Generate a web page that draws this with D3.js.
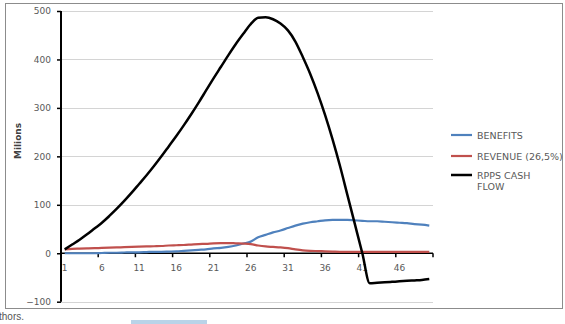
<!DOCTYPE html>
<html>
<head>
<meta charset="utf-8">
<script src="https://cdn.jsdelivr.net/npm/d3@7"></script>
<style>
  body { margin: 0; background: #fff; }
  svg { display: block; }
</style>
</head>
<body>
<div id="chart"></div>
<script>
// periods 1..50
var categories = [1,2,3,4,5,6,7,8,9,10,11,12,13,14,15,16,17,18,19,20,
                  21,22,23,24,25,26,27,28,29,30,31,32,33,34,35,36,37,38,39,40,
                  41,42,43,44,45,46,47,48,49,50];

var benefits = [0,0,0,0,0,0.5,1,1,1.5,2,
                2,2.5,3,3,3.5,4,5,6,7,8,
                10,11,13,16,20,24,33,38,43,47,
                52,57,61,64,66,68,69,69,69,68,
                67,66,66,65,64,63,62,60,59,57];

var revenue = [8,9,9.5,10,10.5,11,11.5,12,12.5,13,
               13.5,14,14.5,15,16,16.5,17,18,19,19.5,
               20.5,21,21,20.5,20,19,16,14,13,12,
               10.5,8,6,5,4.5,4,3.5,3,3,3,
               3,3,3,3,3,3,3,3,3,3];

var cashFlow = [8,18,28,39,51,63,77,92,108,125,
                143,161,180,200,221,242,264,287,311,336,
                361,385,409,432,453,473,486,487,483,474,
                460,437,405,370,330,285,235,180,120,60,
                0,-62,-61,-60,-59,-58,-57,-56,-55,-53];

var xTickLabels = [1,6,11,16,21,26,31,36,41,46];
var yTicks = [-100,0,100,200,300,400,500];

var series = [
  { name: "BENEFITS", values: benefits, color: "#4F81BD", width: 2.2 },
  { name: "REVENUE (26,5%)", values: revenue, color: "#C0504D", width: 2.2 },
  { name: "RPPS CASH FLOW", values: cashFlow, color: "#000000", width: 2.5 }
];

var W = 565, H = 324;
var svg = d3.select("#chart").append("svg")
  .attr("width", W).attr("height", H);

var font = "DejaVu Sans, Verdana, sans-serif";

// outer frame
svg.append("rect")
  .attr("x", 5.5).attr("y", 3.5)
  .attr("width", 557).attr("height", 305)
  .attr("fill", "#fff").attr("stroke", "#8c8c8c").attr("stroke-width", 1);

var x = d3.scaleBand().domain(categories).range([61, 433]).paddingInner(0).paddingOuter(0);
var y = d3.scaleLinear().domain([-100, 500]).range([301.7, 11]);
var cx = function(c) { return x(c) + x.bandwidth() / 2; };

// gridlines
svg.append("g").selectAll("line")
  .data(yTicks).enter().append("line")
  .attr("x1", 61).attr("x2", 433)
  .attr("y1", function(d) { return Math.round(y(d)) + 0.5; })
  .attr("y2", function(d) { return Math.round(y(d)) + 0.5; })
  .attr("stroke", "#d4d4d4").attr("stroke-width", 1);

// y axis
var yAxis = svg.append("g")
  .attr("transform", "translate(61,0)")
  .call(d3.axisLeft(y).tickValues(yTicks).tickSize(4).tickPadding(6));
yAxis.select(".domain").attr("stroke", "#000").attr("stroke-width", 2)
  .attr("d", "M0," + y(-100) + "V" + y(500));
yAxis.selectAll(".tick line").attr("stroke", "#000").attr("stroke-width", 1.5);
yAxis.selectAll(".tick text")
  .attr("font-family", font).attr("font-size", 9).attr("fill", "#595959");

// x axis at zero
var y0 = y(0);
svg.append("line")
  .attr("x1", 61).attr("x2", 433)
  .attr("y1", y0).attr("y2", y0)
  .attr("stroke", "#000").attr("stroke-width", 1.5);

var tickCats = xTickLabels.concat([51]);
svg.append("g").selectAll("line")
  .data(tickCats).enter().append("line")
  .attr("x1", function(d) { return d <= 50 ? x(d) : 433; })
  .attr("x2", function(d) { return d <= 50 ? x(d) : 433; })
  .attr("y1", y0).attr("y2", y0 + 4)
  .attr("stroke", "#000").attr("stroke-width", 1.5);

svg.append("g").selectAll("text")
  .data(xTickLabels).enter().append("text")
  .attr("x", function(d) { return cx(d); })
  .attr("y", y0 + 18)
  .attr("text-anchor", "middle")
  .attr("font-family", font).attr("font-size", 9).attr("fill", "#595959")
  .text(function(d) { return d; });

// y axis title
svg.append("text")
  .attr("transform", "translate(21,141) rotate(-90)")
  .attr("text-anchor", "middle")
  .attr("font-family", font).attr("font-size", 9).attr("font-weight", "bold")
  .attr("fill", "#404040")
  .text("Milions");

// lines
var line = d3.line()
  .x(function(d, i) { return cx(categories[i]); })
  .y(function(d) { return y(d); })
  .curve(d3.curveMonotoneX);

svg.append("g").selectAll("path")
  .data(series).enter().append("path")
  .attr("d", function(s) { return line(s.values); })
  .attr("fill", "none")
  .attr("stroke", function(s) { return s.color; })
  .attr("stroke-width", function(s) { return s.width; })
  .attr("stroke-linejoin", "round");

// legend
var legendY = [135, 156, 175];
var lg = svg.append("g").selectAll("g")
  .data(series).enter().append("g")
  .attr("transform", function(d, i) { return "translate(451," + legendY[i] + ")"; });
lg.append("line")
  .attr("x1", 0).attr("x2", 21)
  .attr("stroke", function(d) { return d.color; })
  .attr("stroke-width", function(d) { return d.width; });
lg.append("text")
  .attr("x", 26).attr("y", 3.5)
  .attr("font-family", font).attr("font-size", 9.5).attr("fill", "#595959")
  .each(function(d) {
    var t = d3.select(this);
    var parts = d.name === "RPPS CASH FLOW" ? ["RPPS CASH", "FLOW"] : [d.name];
    parts.forEach(function(p, k) {
      t.append("tspan").attr("x", 26).attr("dy", k ? 11 : 0).text(p);
    });
  });

// bits of the page below the chart
svg.append("text")
  .attr("x", -1).attr("y", 320)
  .attr("font-family", "Liberation Sans, sans-serif").attr("font-size", 10)
  .attr("fill", "#555")
  .text("thors.");
svg.append("rect")
  .attr("x", 131).attr("y", 320).attr("width", 76).attr("height", 4)
  .attr("fill", "#b9d3e8");
</script>
</body>
</html>
